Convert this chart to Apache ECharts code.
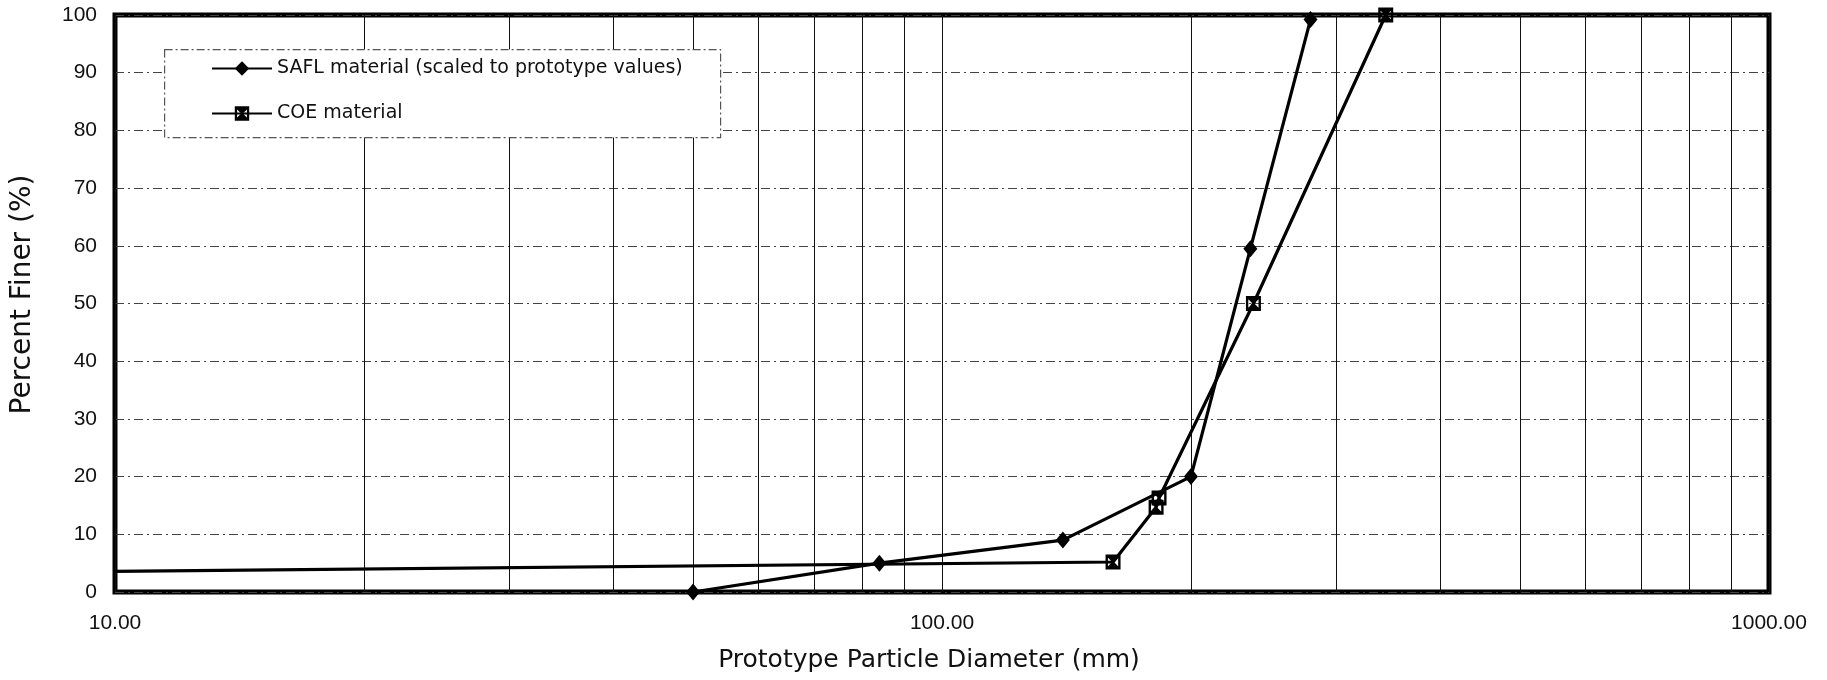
<!DOCTYPE html>
<html>
<head>
<meta charset="utf-8">
<script src="https://cdn.jsdelivr.net/npm/echarts@6/dist/echarts.min.js"></script>
<style>
html,body{margin:0;padding:0;background:#fff;}
#chart{width:1827px;height:680px;}
</style>
</head>
<body>
<div id="chart"></div>
<script>
// ---- data ----
const seriesNames = ['SAFL material (scaled to prototype values)', 'COE material'];
const saflDiameter = [50, 84, 140, 200, 236, 279];
const saflFiner    = [0, 5, 9, 20, 59.5, 99.2];
const coeDiameter  = [9.8, 161, 181.5, 183, 238, 344];
const coeFiner     = [3.55, 5.2, 14.7, 16.3, 50, 100];
const xAxisTitle = 'Prototype Particle Diameter (mm)';
const yAxisTitle = 'Percent Finer (%)';

const pairs = (xs, ys) => xs.map((x, i) => [x, ys[i]]);
const coeSymbol = 'path://M0,0L10,0L10,10L0,10Z M1.6,2.2L1.6,7.8L4.4,5Z M8.4,2.2L5.6,5L8.4,7.8Z';

const chart = echarts.init(document.getElementById('chart'), null, {renderer: 'canvas'});
chart.setOption({
  backgroundColor: '#ffffff',
  animation: false,
  grid: {
    left: 115, right: 58, top: 15, bottom: 88,
    show: true, borderColor: '#000', borderWidth: 5, backgroundColor: 'transparent'
  },
  graphic: [{
    type: 'rect', z: 3, left: 164, top: 49,
    shape: {width: 556, height: 88},
    style: {fill: '#fff', stroke: '#555', lineWidth: 1.2, lineDash: [8, 3, 2, 3]}
  }],
  legend: {
    z: 5,
    orient: 'vertical', left: 206, top: 54,
    itemWidth: 60, itemHeight: 18, itemGap: 26,
    textStyle: {fontFamily: 'DejaVu Sans', fontSize: 19, color: '#111'},
    data: seriesNames
  },
  xAxis: {
    type: 'log', logBase: 10, min: 10, max: 1000,
    name: xAxisTitle, nameLocation: 'middle', nameGap: 56,
    nameTextStyle: {fontFamily: 'DejaVu Sans', fontSize: 25, color: '#111', padding: [0, 26, 0, 0]},
    axisLine: {show: false},
    axisTick: {show: false},
    axisLabel: {
      margin: 21, fontFamily: 'Liberation Sans', fontSize: 21, color: '#111',
      formatter: v => Number(v).toFixed(2)
    },
    splitLine: {show: true, lineStyle: {color: '#111', width: 1}},
    minorTick: {show: false, splitNumber: 9},
    minorSplitLine: {show: true, lineStyle: {color: '#111', width: 1}}
  },
  yAxis: {
    type: 'value', min: 0, max: 100, interval: 10,
    name: yAxisTitle, nameLocation: 'middle', nameGap: 78,
    nameTextStyle: {fontFamily: 'DejaVu Sans', fontSize: 28, color: '#111', padding: [0, 0, 0, 18]},
    axisLine: {show: false},
    axisTick: {show: false},
    axisLabel: {margin: 18, fontFamily: 'Liberation Sans', fontSize: 21, color: '#111'},
    splitLine: {show: true, lineStyle: {color: '#444', width: 1.2, type: [9, 4, 2, 4]}}
  },
  series: [
    {
      name: seriesNames[0], type: 'line', clip: false,
      data: pairs(saflDiameter, saflFiner),
      symbol: 'diamond', symbolSize: [14, 17],
      lineStyle: {color: '#000', width: 3.2},
      itemStyle: {color: '#000'}
    },
    {
      name: seriesNames[1], type: 'line', clip: true,
      data: pairs(coeDiameter, coeFiner),
      symbol: coeSymbol, symbolSize: 15,
      lineStyle: {color: '#000', width: 3.2},
      itemStyle: {color: '#000'}
    }
  ]
});
</script>
</body>
</html>
